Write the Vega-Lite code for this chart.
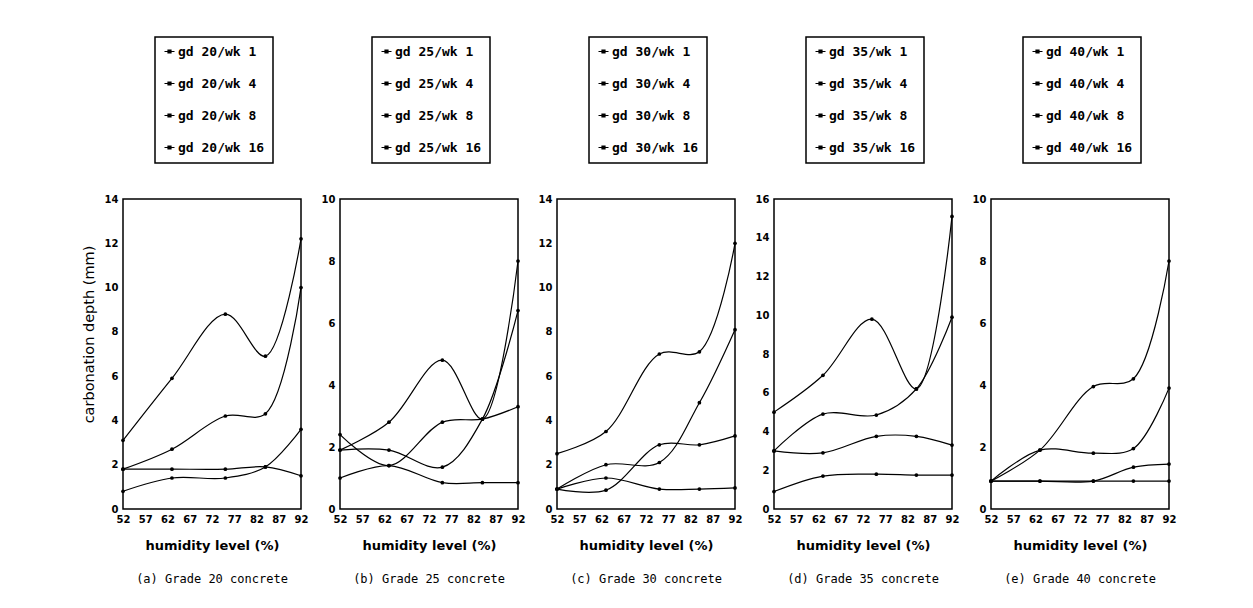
{
  "$schema": "https://vega.github.io/schema/vega-lite/v6.json",
  "background": "white",
  "padding": {"left": 80, "top": 35, "right": 5, "bottom": 5},
  "datasets": {
    "d": [
      {"panel": "a", "series": "gd 20/wk 1", "humidity": 52, "depth": 0.8},
      {"panel": "a", "series": "gd 20/wk 1", "humidity": 63, "depth": 1.4},
      {"panel": "a", "series": "gd 20/wk 1", "humidity": 75, "depth": 1.4},
      {"panel": "a", "series": "gd 20/wk 1", "humidity": 84, "depth": 1.9},
      {"panel": "a", "series": "gd 20/wk 1", "humidity": 92, "depth": 3.6},
      {"panel": "a", "series": "gd 20/wk 4", "humidity": 52, "depth": 1.8},
      {"panel": "a", "series": "gd 20/wk 4", "humidity": 63, "depth": 1.8},
      {"panel": "a", "series": "gd 20/wk 4", "humidity": 75, "depth": 1.8},
      {"panel": "a", "series": "gd 20/wk 4", "humidity": 84, "depth": 1.9},
      {"panel": "a", "series": "gd 20/wk 4", "humidity": 92, "depth": 1.5},
      {"panel": "a", "series": "gd 20/wk 8", "humidity": 52, "depth": 1.8},
      {"panel": "a", "series": "gd 20/wk 8", "humidity": 63, "depth": 2.7},
      {"panel": "a", "series": "gd 20/wk 8", "humidity": 75, "depth": 4.2},
      {"panel": "a", "series": "gd 20/wk 8", "humidity": 84, "depth": 4.3},
      {"panel": "a", "series": "gd 20/wk 8", "humidity": 92, "depth": 10.0},
      {"panel": "a", "series": "gd 20/wk 16", "humidity": 52, "depth": 3.1},
      {"panel": "a", "series": "gd 20/wk 16", "humidity": 63, "depth": 5.9},
      {"panel": "a", "series": "gd 20/wk 16", "humidity": 75, "depth": 8.8},
      {"panel": "a", "series": "gd 20/wk 16", "humidity": 84, "depth": 6.9},
      {"panel": "a", "series": "gd 20/wk 16", "humidity": 92, "depth": 12.2},

      {"panel": "b", "series": "gd 25/wk 1", "humidity": 52, "depth": 1.0},
      {"panel": "b", "series": "gd 25/wk 1", "humidity": 63, "depth": 1.4},
      {"panel": "b", "series": "gd 25/wk 1", "humidity": 75, "depth": 0.85},
      {"panel": "b", "series": "gd 25/wk 1", "humidity": 84, "depth": 0.85},
      {"panel": "b", "series": "gd 25/wk 1", "humidity": 92, "depth": 0.85},
      {"panel": "b", "series": "gd 25/wk 4", "humidity": 52, "depth": 2.4},
      {"panel": "b", "series": "gd 25/wk 4", "humidity": 63, "depth": 1.4},
      {"panel": "b", "series": "gd 25/wk 4", "humidity": 75, "depth": 2.8},
      {"panel": "b", "series": "gd 25/wk 4", "humidity": 84, "depth": 2.9},
      {"panel": "b", "series": "gd 25/wk 4", "humidity": 92, "depth": 3.3},
      {"panel": "b", "series": "gd 25/wk 8", "humidity": 52, "depth": 1.9},
      {"panel": "b", "series": "gd 25/wk 8", "humidity": 63, "depth": 1.9},
      {"panel": "b", "series": "gd 25/wk 8", "humidity": 75, "depth": 1.35},
      {"panel": "b", "series": "gd 25/wk 8", "humidity": 84, "depth": 2.9},
      {"panel": "b", "series": "gd 25/wk 8", "humidity": 92, "depth": 6.4},
      {"panel": "b", "series": "gd 25/wk 16", "humidity": 52, "depth": 1.9},
      {"panel": "b", "series": "gd 25/wk 16", "humidity": 63, "depth": 2.8},
      {"panel": "b", "series": "gd 25/wk 16", "humidity": 75, "depth": 4.8},
      {"panel": "b", "series": "gd 25/wk 16", "humidity": 84, "depth": 2.9},
      {"panel": "b", "series": "gd 25/wk 16", "humidity": 92, "depth": 8.0},

      {"panel": "c", "series": "gd 30/wk 1", "humidity": 52, "depth": 0.9},
      {"panel": "c", "series": "gd 30/wk 1", "humidity": 63, "depth": 1.4},
      {"panel": "c", "series": "gd 30/wk 1", "humidity": 75, "depth": 0.9},
      {"panel": "c", "series": "gd 30/wk 1", "humidity": 84, "depth": 0.9},
      {"panel": "c", "series": "gd 30/wk 1", "humidity": 92, "depth": 0.95},
      {"panel": "c", "series": "gd 30/wk 4", "humidity": 52, "depth": 0.9},
      {"panel": "c", "series": "gd 30/wk 4", "humidity": 63, "depth": 0.85},
      {"panel": "c", "series": "gd 30/wk 4", "humidity": 75, "depth": 2.9},
      {"panel": "c", "series": "gd 30/wk 4", "humidity": 84, "depth": 2.9},
      {"panel": "c", "series": "gd 30/wk 4", "humidity": 92, "depth": 3.3},
      {"panel": "c", "series": "gd 30/wk 8", "humidity": 52, "depth": 0.9},
      {"panel": "c", "series": "gd 30/wk 8", "humidity": 63, "depth": 2.0},
      {"panel": "c", "series": "gd 30/wk 8", "humidity": 75, "depth": 2.1},
      {"panel": "c", "series": "gd 30/wk 8", "humidity": 84, "depth": 4.8},
      {"panel": "c", "series": "gd 30/wk 8", "humidity": 92, "depth": 8.1},
      {"panel": "c", "series": "gd 30/wk 16", "humidity": 52, "depth": 2.5},
      {"panel": "c", "series": "gd 30/wk 16", "humidity": 63, "depth": 3.5},
      {"panel": "c", "series": "gd 30/wk 16", "humidity": 75, "depth": 7.0},
      {"panel": "c", "series": "gd 30/wk 16", "humidity": 84, "depth": 7.1},
      {"panel": "c", "series": "gd 30/wk 16", "humidity": 92, "depth": 12.0},

      {"panel": "d", "series": "gd 35/wk 1", "humidity": 52, "depth": 0.9},
      {"panel": "d", "series": "gd 35/wk 1", "humidity": 63, "depth": 1.7},
      {"panel": "d", "series": "gd 35/wk 1", "humidity": 75, "depth": 1.8},
      {"panel": "d", "series": "gd 35/wk 1", "humidity": 84, "depth": 1.75},
      {"panel": "d", "series": "gd 35/wk 1", "humidity": 92, "depth": 1.75},
      {"panel": "d", "series": "gd 35/wk 4", "humidity": 52, "depth": 3.0},
      {"panel": "d", "series": "gd 35/wk 4", "humidity": 63, "depth": 2.9},
      {"panel": "d", "series": "gd 35/wk 4", "humidity": 75, "depth": 3.75},
      {"panel": "d", "series": "gd 35/wk 4", "humidity": 84, "depth": 3.75},
      {"panel": "d", "series": "gd 35/wk 4", "humidity": 92, "depth": 3.3},
      {"panel": "d", "series": "gd 35/wk 8", "humidity": 52, "depth": 3.0},
      {"panel": "d", "series": "gd 35/wk 8", "humidity": 63, "depth": 4.9},
      {"panel": "d", "series": "gd 35/wk 8", "humidity": 75, "depth": 4.85},
      {"panel": "d", "series": "gd 35/wk 8", "humidity": 84, "depth": 6.2},
      {"panel": "d", "series": "gd 35/wk 8", "humidity": 92, "depth": 9.9},
      {"panel": "d", "series": "gd 35/wk 16", "humidity": 52, "depth": 5.0},
      {"panel": "d", "series": "gd 35/wk 16", "humidity": 63, "depth": 6.9},
      {"panel": "d", "series": "gd 35/wk 16", "humidity": 74, "depth": 9.8},
      {"panel": "d", "series": "gd 35/wk 16", "humidity": 84, "depth": 6.2},
      {"panel": "d", "series": "gd 35/wk 16", "humidity": 92, "depth": 15.1},

      {"panel": "e", "series": "gd 40/wk 1", "humidity": 52, "depth": 0.9},
      {"panel": "e", "series": "gd 40/wk 1", "humidity": 63, "depth": 0.9},
      {"panel": "e", "series": "gd 40/wk 1", "humidity": 75, "depth": 0.9},
      {"panel": "e", "series": "gd 40/wk 1", "humidity": 84, "depth": 0.9},
      {"panel": "e", "series": "gd 40/wk 1", "humidity": 92, "depth": 0.9},
      {"panel": "e", "series": "gd 40/wk 4", "humidity": 52, "depth": 0.9},
      {"panel": "e", "series": "gd 40/wk 4", "humidity": 63, "depth": 0.9},
      {"panel": "e", "series": "gd 40/wk 4", "humidity": 75, "depth": 0.9},
      {"panel": "e", "series": "gd 40/wk 4", "humidity": 84, "depth": 1.35},
      {"panel": "e", "series": "gd 40/wk 4", "humidity": 92, "depth": 1.45},
      {"panel": "e", "series": "gd 40/wk 8", "humidity": 52, "depth": 0.9},
      {"panel": "e", "series": "gd 40/wk 8", "humidity": 63, "depth": 1.9},
      {"panel": "e", "series": "gd 40/wk 8", "humidity": 75, "depth": 1.8},
      {"panel": "e", "series": "gd 40/wk 8", "humidity": 84, "depth": 1.95},
      {"panel": "e", "series": "gd 40/wk 8", "humidity": 92, "depth": 3.9},
      {"panel": "e", "series": "gd 40/wk 16", "humidity": 52, "depth": 0.9},
      {"panel": "e", "series": "gd 40/wk 16", "humidity": 63, "depth": 1.9},
      {"panel": "e", "series": "gd 40/wk 16", "humidity": 75, "depth": 3.95},
      {"panel": "e", "series": "gd 40/wk 16", "humidity": 84, "depth": 4.2},
      {"panel": "e", "series": "gd 40/wk 16", "humidity": 92, "depth": 8.0}
    ]
  },
  "spacing": 39,
  "bounds": "flush",
  "resolve": {"scale": {"y": "independent", "color": "independent"}, "legend": {"color": "independent"}},
  "hconcat": [
    {
      "width": 178, "height": 310,
      "data": {"name": "d"},
      "transform": [{"filter": "datum.panel == 'a'"}],
      "title": {"text": "(a) Grade 20 concrete", "orient": "bottom"},
      "encoding": {
        "x": {"field": "humidity", "type": "quantitative", "scale": {"domain": [52, 92], "nice": false, "zero": false}, "axis": {"values": [52, 57, 62, 67, 72, 77, 82, 87, 92], "title": "humidity level (%)"}},
        "y": {"field": "depth", "type": "quantitative", "scale": {"domain": [0, 14], "nice": false}, "axis": {"values": [0, 2, 4, 6, 8, 10, 12, 14], "title": "carbonation depth (mm)", "titleY": 135}}
      },
      "layer": [
        {"mark": {"type": "line", "interpolate": "catmull-rom", "strokeWidth": 1.2},
         "encoding": {"color": {"field": "series", "type": "nominal", "scale": {"domain": ["gd 20/wk 1", "gd 20/wk 4", "gd 20/wk 8", "gd 20/wk 16"], "range": ["black", "black", "black", "black"]}, "legend": {"orient": "none", "legendX": 32, "legendY": -162}}}},
        {"mark": {"type": "point", "filled": true, "size": 14, "color": "black", "opacity": 1}, "encoding": {"detail": {"field": "series"}}}
      ]
    },
    {
      "width": 178, "height": 310,
      "data": {"name": "d"},
      "transform": [{"filter": "datum.panel == 'b'"}],
      "title": {"text": "(b) Grade 25 concrete", "orient": "bottom"},
      "encoding": {
        "x": {"field": "humidity", "type": "quantitative", "scale": {"domain": [52, 92], "nice": false, "zero": false}, "axis": {"values": [52, 57, 62, 67, 72, 77, 82, 87, 92], "title": "humidity level (%)"}},
        "y": {"field": "depth", "type": "quantitative", "scale": {"domain": [0, 10], "nice": false}, "axis": {"values": [0, 2, 4, 6, 8, 10], "title": null}}
      },
      "layer": [
        {"mark": {"type": "line", "interpolate": "catmull-rom", "strokeWidth": 1.2},
         "encoding": {"color": {"field": "series", "type": "nominal", "scale": {"domain": ["gd 25/wk 1", "gd 25/wk 4", "gd 25/wk 8", "gd 25/wk 16"], "range": ["black", "black", "black", "black"]}, "legend": {"orient": "none", "legendX": 32, "legendY": -162}}}},
        {"mark": {"type": "point", "filled": true, "size": 14, "color": "black", "opacity": 1}, "encoding": {"detail": {"field": "series"}}}
      ]
    },
    {
      "width": 178, "height": 310,
      "data": {"name": "d"},
      "transform": [{"filter": "datum.panel == 'c'"}],
      "title": {"text": "(c) Grade 30 concrete", "orient": "bottom"},
      "encoding": {
        "x": {"field": "humidity", "type": "quantitative", "scale": {"domain": [52, 92], "nice": false, "zero": false}, "axis": {"values": [52, 57, 62, 67, 72, 77, 82, 87, 92], "title": "humidity level (%)"}},
        "y": {"field": "depth", "type": "quantitative", "scale": {"domain": [0, 14], "nice": false}, "axis": {"values": [0, 2, 4, 6, 8, 10, 12, 14], "title": null}}
      },
      "layer": [
        {"mark": {"type": "line", "interpolate": "catmull-rom", "strokeWidth": 1.2},
         "encoding": {"color": {"field": "series", "type": "nominal", "scale": {"domain": ["gd 30/wk 1", "gd 30/wk 4", "gd 30/wk 8", "gd 30/wk 16"], "range": ["black", "black", "black", "black"]}, "legend": {"orient": "none", "legendX": 32, "legendY": -162}}}},
        {"mark": {"type": "point", "filled": true, "size": 14, "color": "black", "opacity": 1}, "encoding": {"detail": {"field": "series"}}}
      ]
    },
    {
      "width": 178, "height": 310,
      "data": {"name": "d"},
      "transform": [{"filter": "datum.panel == 'd'"}],
      "title": {"text": "(d) Grade 35 concrete", "orient": "bottom"},
      "encoding": {
        "x": {"field": "humidity", "type": "quantitative", "scale": {"domain": [52, 92], "nice": false, "zero": false}, "axis": {"values": [52, 57, 62, 67, 72, 77, 82, 87, 92], "title": "humidity level (%)"}},
        "y": {"field": "depth", "type": "quantitative", "scale": {"domain": [0, 16], "nice": false}, "axis": {"values": [0, 2, 4, 6, 8, 10, 12, 14, 16], "title": null}}
      },
      "layer": [
        {"mark": {"type": "line", "interpolate": "catmull-rom", "strokeWidth": 1.2},
         "encoding": {"color": {"field": "series", "type": "nominal", "scale": {"domain": ["gd 35/wk 1", "gd 35/wk 4", "gd 35/wk 8", "gd 35/wk 16"], "range": ["black", "black", "black", "black"]}, "legend": {"orient": "none", "legendX": 32, "legendY": -162}}}},
        {"mark": {"type": "point", "filled": true, "size": 14, "color": "black", "opacity": 1}, "encoding": {"detail": {"field": "series"}}}
      ]
    },
    {
      "width": 178, "height": 310,
      "data": {"name": "d"},
      "transform": [{"filter": "datum.panel == 'e'"}],
      "title": {"text": "(e) Grade 40 concrete", "orient": "bottom"},
      "encoding": {
        "x": {"field": "humidity", "type": "quantitative", "scale": {"domain": [52, 92], "nice": false, "zero": false}, "axis": {"values": [52, 57, 62, 67, 72, 77, 82, 87, 92], "title": "humidity level (%)"}},
        "y": {"field": "depth", "type": "quantitative", "scale": {"domain": [0, 10], "nice": false}, "axis": {"values": [0, 2, 4, 6, 8, 10], "title": null}}
      },
      "layer": [
        {"mark": {"type": "line", "interpolate": "catmull-rom", "strokeWidth": 1.2},
         "encoding": {"color": {"field": "series", "type": "nominal", "scale": {"domain": ["gd 40/wk 1", "gd 40/wk 4", "gd 40/wk 8", "gd 40/wk 16"], "range": ["black", "black", "black", "black"]}, "legend": {"orient": "none", "legendX": 32, "legendY": -162}}}},
        {"mark": {"type": "point", "filled": true, "size": 14, "color": "black", "opacity": 1}, "encoding": {"detail": {"field": "series"}}}
      ]
    }
  ],
  "config": {
    "view": {"stroke": "black", "strokeWidth": 1.5},
    "axis": {"domain": false, "ticks": false, "grid": false, "labelFont": "DejaVu Sans", "labelFontWeight": "bold", "labelFontSize": 10, "labelColor": "black", "labelFlush": false, "labelOverlap": false, "titleColor": "black", "titleFont": "DejaVu Sans"},
    "axisX": {"labelPadding": 5, "titlePadding": 15, "titleFontSize": 13, "titleFontWeight": "bold"},
    "axisY": {"labelPadding": 5, "titlePadding": 8, "titleFontSize": 14.5, "titleFontWeight": "normal"},
    "legend": {"title": null, "strokeColor": "black", "strokeWidth": 1.5, "padding": 8, "rowPadding": 18, "labelFont": "DejaVu Sans Mono", "labelFontSize": 13, "labelFontWeight": "bold", "labelColor": "black", "labelOffset": 2, "symbolType": "M-1,0H1M-0.3,-0.3H0.3V0.3H-0.3Z", "symbolSize": 100, "symbolStrokeWidth": 1.2, "symbolStrokeColor": "black", "symbolFillColor": "black"},
    "title": {"font": "DejaVu Sans Mono", "fontSize": 12, "fontWeight": "normal", "color": "black", "offset": 22}
  }
}
